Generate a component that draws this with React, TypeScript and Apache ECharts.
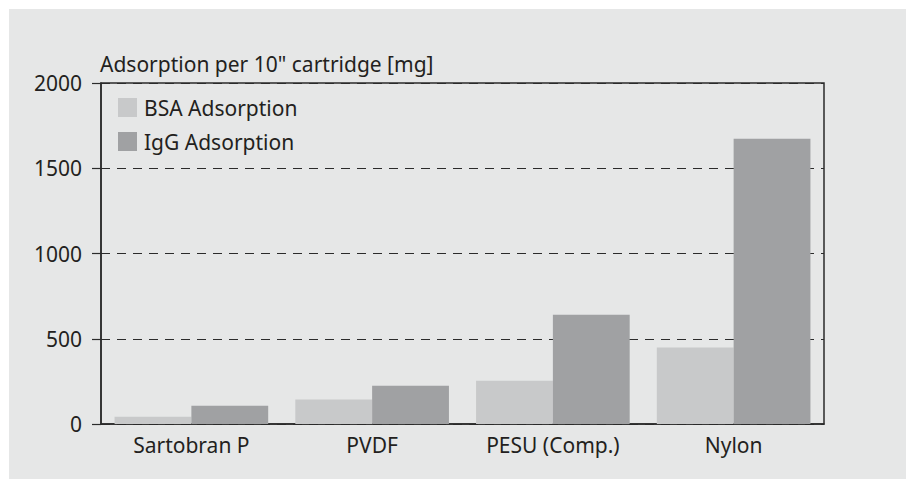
import React, { useEffect, useRef } from "react";
import * as echarts from "echarts";

const categories = ["Sartobran P", "PVDF", "PESU (Comp.)", "Nylon"];
const bsaValues = [43, 143, 254, 448];
const iggValues = [107, 225, 641, 1673];
const seriesNames = ["BSA Adsorption", "IgG Adsorption"];
const yAxisTitle = 'Adsorption per 10" cartridge [mg]';

const FONT = "Noto Sans";
const FS = 21;
const TEXT = "#231f20";

export default function App() {
  const ref = useRef<HTMLDivElement>(null);
  useEffect(() => {
    if (!ref.current) return;
    const chart = echarts.init(ref.current, undefined, { renderer: "svg" });
    chart.setOption({
      animation: false,
      backgroundColor: "#ffffff",
      textStyle: { fontFamily: FONT, color: TEXT },
      graphic: [
        {
          type: "rect",
          z: -10,
          silent: true,
          shape: { x: 9, y: 9, width: 897, height: 470 },
          style: { fill: "#e6e7e7" },
        },
        {
          type: "text",
          left: 100,
          top: 53,
          style: { text: yAxisTitle, font: `${FS}px '${FONT}'`, fill: TEXT },
        },
      ],
      grid: {
        left: 101,
        right: 82,
        top: 83,
        bottom: 55,
        show: true,
        borderColor: "#2b2b2b",
        borderWidth: 1.5,
        backgroundColor: "transparent",
      },
      legend: {
        orient: "vertical",
        left: 113,
        top: 92,
        icon: "rect",
        itemWidth: 19,
        itemHeight: 19,
        itemGap: 13,
        textStyle: { fontFamily: FONT, fontSize: FS, color: TEXT, padding: [0, 0, 0, 2] },
        data: seriesNames,
      },
      xAxis: {
        type: "category",
        data: categories,
        axisLine: { lineStyle: { color: "#2b2b2b", width: 1.5 } },
        axisTick: { show: false },
        axisLabel: { fontFamily: FONT, fontSize: FS, color: TEXT, margin: 10 },
      },
      yAxis: {
        type: "value",
        min: 0,
        max: 2000,
        interval: 500,
        axisLine: { show: true, lineStyle: { color: "#2b2b2b", width: 1.5 } },
        axisTick: { show: true, length: 9, lineStyle: { color: "#2b2b2b", width: 1.2 } },
        axisLabel: {
          fontFamily: FONT,
          fontSize: FS,
          color: TEXT,
          margin: 19,
          formatter: (v: number) => String(v),
        },
        splitLine: {
          show: true,
          lineStyle: { color: "#2b2b2b", width: 1.2, type: [9, 7] },
        },
      },
      series: [
        {
          name: seriesNames[0],
          type: "bar",
          data: bsaValues,
          itemStyle: { color: "#c8c9ca" },
          barGap: "0%",
          barCategoryGap: "15%",
        },
        {
          name: seriesNames[1],
          type: "bar",
          data: iggValues,
          itemStyle: { color: "#a0a1a3" },
          barGap: "0%",
          barCategoryGap: "15%",
        },
      ],
    });
    return () => chart.dispose();
  }, []);
  return (
    <div
      ref={ref}
      style={{ position: "absolute", left: 0, top: 0, width: 906, height: 479 }}
    />
  );
}
